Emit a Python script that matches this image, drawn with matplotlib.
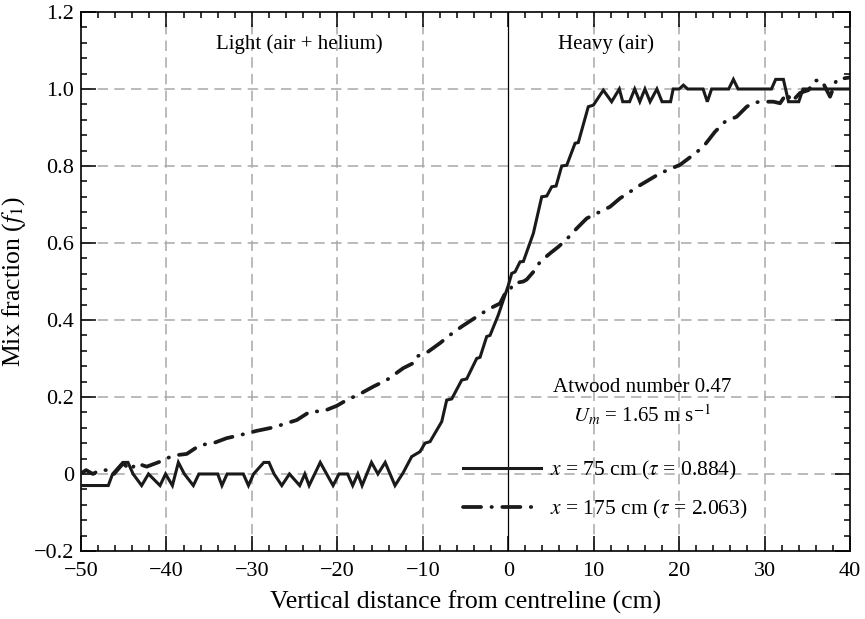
import matplotlib
matplotlib.use("Agg")
import matplotlib.pyplot as plt
from matplotlib.ticker import MultipleLocator, FuncFormatter

plt.rcParams['font.family'] = ['Liberation Serif', 'DejaVu Serif']
plt.rcParams['mathtext.fontset'] = 'stix'
plt.rcParams['lines.scale_dashes'] = False

# x = 75 cm profile (solid)
x75 = [-50, -46.8, -46.3, -45.1, -44.5, -43.9, -42.9, -42.1, -40.75, -40.1, -39.3, -38.6,
       -37.9, -36.85, -36.2, -34.0, -33.5, -32.9, -31.0, -30.4, -29.8, -28.6, -28.0, -27.4,
       -26.5, -25.6, -24.4, -23.8, -23.3, -22.0, -20.5, -19.8, -18.8, -18.2, -17.6, -17.1,
       -16.0, -15.25, -14.4, -13.25, -12.3, -11.3, -10.32, -9.74, -9.15, -7.78, -7.2, -6.61,
       -5.44, -4.86, -3.69, -3.3, -2.52, -2.13, -1.16, -0.37, 0.01, 0.41, 0.80, 1.38, 1.77,
       2.94, 3.92, 4.51, 5.09, 5.6, 6.26, 6.85, 7.82, 8.2, 9.37, 9.96, 11.13, 12.1, 13.0,
       13.4, 14.2, 14.8, 15.4, 16.0, 16.6, 17.4, 18.0, 19.0, 19.3, 20.0, 20.5, 21.0, 22.8,
       23.3, 23.8, 25.8, 26.35, 26.9, 30.8, 31.3, 32.2, 32.8, 34.0, 34.5, 40.0]
f75 = [-0.03, -0.03, 0.0, 0.03, 0.03, 0.0, -0.03, 0.0, -0.03, 0.0, -0.03, 0.03,
       0.0, -0.03, 0.0, 0.0, -0.03, 0.0, 0.0, -0.03, 0.0, 0.03, 0.03, 0.0,
       -0.03, 0.0, -0.03, 0.0, -0.03, 0.03, -0.03, 0.0, 0.0, -0.03, 0.0, -0.03,
       0.03, 0.0, 0.03, -0.03, 0.003, 0.045, 0.058, 0.08, 0.084, 0.136, 0.192, 0.195,
       0.244, 0.247, 0.30, 0.303, 0.357, 0.36, 0.413, 0.465, 0.49, 0.521, 0.525, 0.551, 0.552,
       0.625, 0.72, 0.722, 0.746, 0.748, 0.80, 0.802, 0.859, 0.861, 0.954, 0.958, 0.997, 0.967, 1.0,
       0.967, 0.967, 1.0, 0.967, 1.0, 0.967, 1.0, 0.967, 0.967, 1.0, 1.0, 1.01, 1.0, 1.0,
       0.967, 1.0, 1.0, 1.025, 1.0, 1.0, 1.025, 1.025, 0.967, 0.967, 1.0, 1.0]

# x = 175 cm profile (dash-dot)
x175 = [-50.1, -49.4, -48.6, -47.8, -47.0, -46.25, -45.05, -44.26, -43.48, -42.31, -40.75,
        -39.97, -38.8, -37.63, -36.07, -34.52, -32.95, -31.39, -29.44, -27.49, -24.75, -23.2,
        -21.64, -20.07, -18.9, -17.35, -15.79, -14.22, -12.28, -11.11, -10.71, -9.35, -7.98,
        -6.81, -5.44, -4.27, -3.1, -2.13, -0.96, -0.37, 0.01, 0.6, 1.77, 2.16, 3.14, 3.72,
        4.89, 5.86, 6.85, 8.02, 9.19, 10.36, 11.91, 13.08, 15.42, 17.77, 20.1, 21.66, 22.83,
        24.2, 25.37, 26.74, 27.91, 28.69, 29.47, 31.03, 31.81, 32.6, 33.18, 34.16, 35.13,
        35.9, 36.7, 37.66, 38.44, 40.0]
f175 = [0.0, 0.01, 0.0, 0.01, 0.01, -0.003, 0.028, 0.01, 0.028, 0.019, 0.032,
        0.041, 0.049, 0.052, 0.075, 0.08, 0.093, 0.101, 0.112, 0.121, 0.14, 0.162,
        0.163, 0.177, 0.192, 0.208, 0.227, 0.244, 0.275, 0.288, 0.305, 0.318, 0.34,
        0.361, 0.383, 0.40, 0.417, 0.43, 0.443, 0.469, 0.47, 0.495, 0.50, 0.505, 0.53, 0.551,
        0.573, 0.59, 0.61, 0.638, 0.664, 0.677, 0.694, 0.716, 0.75, 0.781, 0.803, 0.829, 0.85,
        0.889, 0.915, 0.928, 0.954, 0.964, 0.967, 0.967, 0.963, 0.989, 0.967, 0.99, 0.997,
        1.022, 1.022, 0.98, 1.025, 1.03]

xticks = [-50, -40, -30, -20, -10, 0, 10, 20, 30, 40]
yticks = [-0.2, 0, 0.2, 0.4, 0.6, 0.8, 1.0, 1.2]

fig = plt.figure(figsize=(8.65, 6.19), dpi=100)
ax = fig.add_axes([0.0936, 0.1099, 0.8891, 0.8707])

# grid (dashed grey), skipping centreline
for xv in xticks[1:-1]:
    if xv != 0:
        ax.axvline(xv, color='#a8a8a8', lw=1.1, dashes=(7.5, 4.5), zorder=0)
for yv in yticks[1:-1]:
    ax.axhline(yv, color='#a8a8a8', lw=1.1, dashes=(7.5, 4.5), zorder=0)
ax.axvline(0, color='black', lw=0.9, zorder=1)

ax.plot(x75, f75, color='#1a1a1a', lw=2.2, solid_joinstyle='miter',
        label=r'$x$ = 75 cm ($\tau$ = 0.884)', zorder=3)
ax.plot(x175, f175, color='#1a1a1a', lw=2.7, dashes=(13, 7.5, 0.3, 7.5),
        dash_capstyle='round', label=r'$x$ = 175 cm ($\tau$ = 2.063)', zorder=3)

ax.set_xlim(-50, 40)
ax.set_ylim(-0.2, 1.2)
ax.set_xticks(xticks)
ax.set_yticks(yticks)
ax.xaxis.set_minor_locator(MultipleLocator(2))
ax.yaxis.set_minor_locator(MultipleLocator(0.04))
ax.yaxis.set_major_formatter(FuncFormatter(lambda v, p: '0' if abs(v) < 1e-9 else ('\u2212%.1f' % -v if v < 0 else '%.1f' % v)))
ax.xaxis.set_major_formatter(FuncFormatter(lambda v, p: ('\u2212%d' % -v) if v < 0 else '%d' % v))
ax.tick_params(which='both', direction='in', top=True, right=True, labelsize=16, width=1.1)
ax.tick_params(which='major', length=11)
ax.tick_params(axis='x', which='major', pad=8)
ax.tick_params(axis='y', which='major', pad=5)
ax.tick_params(which='minor', length=4.5)
for s in ax.spines.values():
    s.set_linewidth(1.2)

ax.set_xlabel('Vertical distance from centreline (cm)', fontsize=18.5, labelpad=7)
ax.set_ylabel(r'Mix fraction ($f_1$)', fontsize=18.5, labelpad=4)

ax.text(-24.5, 1.117, 'Light (air + helium)', ha='center', va='center', fontsize=15)
ax.text(11.5, 1.117, 'Heavy (air)', ha='center', va='center', fontsize=15)
ax.text(15.7, 0.224, 'Atwood number 0.47', ha='center', va='center', fontsize=15)
ax.text(15.7, 0.153, r'$U_m$ = 1.65 m s$^{-1}$', ha='center', va='center', fontsize=15)

ax.legend(loc='center left', bbox_to_anchor=(0.497, 0.113), frameon=False,
          fontsize=15.5, handlelength=3.6, handletextpad=0.42, labelspacing=0.72,
          borderpad=0, borderaxespad=0)

fig.savefig('out.png', dpi=100)
